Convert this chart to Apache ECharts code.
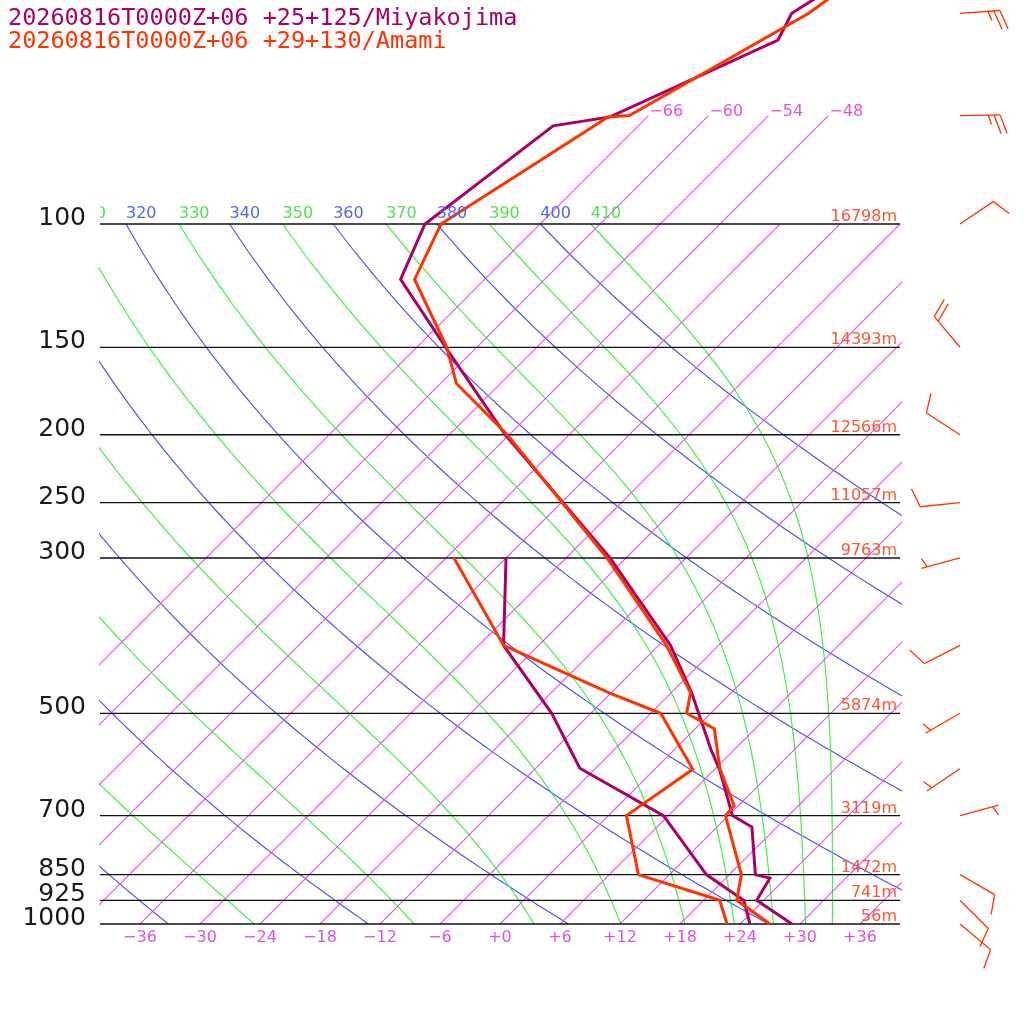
<!DOCTYPE html>
<html><head><meta charset="utf-8">
<script src="https://cdn.jsdelivr.net/npm/echarts@6/dist/echarts.min.js"></script>
<style>html,body{margin:0;padding:0;background:#fff}#c{width:1024px;height:1024px}</style>
</head><body><div id="c"></div>
<script>
// ---------------- data ----------------
const legendMiyako = '20260816T0000Z+06 +25+125/Miyakojima';
const legendAmami = '20260816T0000Z+06 +29+130/Amami';

const pressureLevels = [1000, 925, 850, 700, 500, 300, 250, 200, 150, 100];
const levelHeights = ['56m', '741m', '1472m', '3119m', '5874m', '9763m', '11057m', '12566m', '14393m', '16798m'];
const tempTicks = [-36, -30, -24, -18, -12, -6, 0, 6, 12, 18, 24, 30, 36];
const isothermTemps = [-66, -60, -54, -48, -42, -36, -30, -24, -18, -12, -6, 0, 6, 12, 18, 24, 30, 36];
const isothermLabelTemps = [-66, -60, -54, -48];
const dryAdiabatThetas = [240, 260, 280, 300, 320, 340, 360, 380, 400];
const moistAdiabatThetaEs = [250, 270, 290, 310, 330, 350, 370, 390, 410];

const miyakoTempP = [1000, 925, 860, 850, 727, 700, 603, 564, 468, 400, 300, 200, 153, 120, 100, 72.4, 70.3, 54.6, 50, 45];
const miyakoTemp  = [29.2, 23.3, 22.4, 20.6, 15.5, 12.4, 6.6, 3.7, -3.9, -10.8, -25.6, -48.4, -62.1, -74.4, -77.5, -74.5, -69.7, -60.6, -61.9, -60.0];
const miyakoDewP  = [1000, 925, 850, 700, 599, 500, 400, 300];
const miyakoDew   = [25.0, 22.0, 15.7, 5.5, -7.6, -15.9, -27.5, -36.0];

const amamiTempP = [1000, 925, 850, 700, 678, 599, 526, 500, 467, 400, 300, 200, 169, 150, 120, 100, 70.3, 70, 50, 45];
const amamiTemp  = [27.0, 21.3, 19.2, 11.7, 11.6, 6.4, 1.9, -2.4, -4.1, -11.2, -25.9, -48.2, -58.4, -63.0, -73.0, -75.9, -69.9, -67.9, -60.2, -59.0];
const amamiDewP  = [1000, 925, 850, 700, 601, 528, 500, 468, 400, 300];
const amamiDew   = [22.7, 19.6, 8.9, 1.8, 3.8, -2.4, -5.0, -12.1, -27.5, -41.2];

const windP   = [1000, 925, 850, 700, 600, 500, 400, 300, 250, 200, 150, 100, 70, 50];
const windDir = [130, 135, 120, 75, 236, 240, 243, 255, 264, 303, 320, 56, 89, 86];
const windSpd = [10, 10, 10, 5, 5, 5, 10, 5, 10, 10, 20, 10, 25, 25];

// ---------------- styles ----------------
const C_MIYAKO = 'rgb(170,0,102)';
const C_AMAMI = 'rgb(255,51,0)';
const C_ISO = 'rgb(228,80,240)';
const C_ISO_LABEL = 'rgb(221,85,221)';
const C_DRY = 'rgb(70,80,255)';
const C_DRY_LABEL = 'rgb(85,100,238)';
const C_MOIST = 'rgb(60,240,60)';
const C_MOIST_LABEL = 'rgb(85,221,85)';
const C_HEIGHT = 'rgb(255,85,51)';
const SANS = '"DejaVu Sans"';
const MONO = '"DejaVu Sans Mono"';

// ---------------- thermodynamics (background diagram) ----------------
const KAPPA = 0.2857;
const SKEW = 70; // degrees C of skew per decade of pressure (45 degree isotherms)
function skewX(T, p) { return T + SKEW * Math.log10(1000 / p); }
function satVap(Tc) { return 6.112 * Math.exp(17.67 * Tc / (Tc + 243.5)); }
function thetaESat(Tc, p) {
  const T = Tc + 273.15, es = satVap(Tc), r = 622 * es / (p - es);
  return T * Math.pow(1000 / p, 0.2854 * (1 - 0.00028 * r)) * Math.exp((3.376 / T - 0.00254) * r * (1 + 0.00081 * r));
}
function moistT(thetaE, p) {
  let lo = -140, hi = 45;
  while (satVap(hi) > 0.08 * p) hi -= 2;
  for (let i = 0; i < 60; i++) { const m = (lo + hi) / 2; if (thetaESat(m, p) < thetaE) lo = m; else hi = m; }
  return (lo + hi) / 2;
}
const samplePs = [];
for (let p = 1000; p >= 100; p -= 10) samplePs.push(p);

function profile(ps, ts) { return ps.map((p, i) => [skewX(ts[i], p), p]); }

const series = [];
const bg = { type: 'line', symbol: 'none', silent: true, animation: false, z: 1, clip: true };

dryAdiabatThetas.forEach(th => {
  series.push(Object.assign({}, bg, {
    data: samplePs.map(p => [skewX(th * Math.pow(p / 1000, KAPPA) - 273.15, p), p]),
    lineStyle: { color: C_DRY, width: 1.15 }
  }));
});
moistAdiabatThetaEs.forEach(te => {
  series.push(Object.assign({}, bg, {
    data: samplePs.map(p => [skewX(moistT(te, p), p), p]),
    lineStyle: { color: C_MOIST, width: 1.15 }
  }));
});
// isotherms
isothermTemps.forEach(T => {
  const pTop = isothermLabelTemps.includes(T) ? 70 : 100;
  const ps = samplePs.filter(p => p >= pTop);
  if (pTop < 100) ps.push(pTop);
  series.push(Object.assign({}, bg, {
    data: ps.map(p => [skewX(T, p), p]),
    lineStyle: { color: C_ISO, width: 1.1 }
  }));
});

// isobars
series.push({
  type: 'custom', z: 2, silent: true, animation: false, clip: false,
  data: pressureLevels.map(p => [0, p]),
  renderItem(params, api) {
    const p = api.value(1);
    const a = api.coord([-40, p]), b = api.coord([40, p]);
    return { type: 'line', shape: { x1: a[0], y1: a[1], x2: b[0], y2: b[1] }, style: { stroke: 'rgb(17,17,17)', lineWidth: 1.3 } };
  }
});
// pressure labels (left)
series.push({
  type: 'custom', z: 4, silent: true, animation: false, clip: false,
  data: pressureLevels.map(p => [-40, p]),
  renderItem(params, api) {
    const c = api.coord([api.value(0), api.value(1)]);
    return { type: 'text', x: c[0] - 14, y: c[1] - 5.5, style: { text: String(pressureLevels[params.dataIndex]), fill: 'rgb(26,26,26)', font: '25px ' + SANS, align: 'right', verticalAlign: 'middle' } };
  }
});
// height labels (right)
series.push({
  type: 'custom', z: 4, silent: true, animation: false, clip: false,
  data: pressureLevels.map(p => [40, p]),
  renderItem(params, api) {
    const c = api.coord([api.value(0), api.value(1)]);
    return { type: 'text', x: c[0] - 3, y: c[1] - 7, style: { text: levelHeights[params.dataIndex], fill: C_HEIGHT, font: '16px ' + SANS, align: 'right', verticalAlign: 'middle' } };
  }
});
// isotherm labels
series.push({
  type: 'custom', z: 4, silent: true, animation: false, clip: false,
  data: isothermLabelTemps.map(T => [skewX(T, 70), 70]),
  renderItem(params, api) {
    const c = api.coord([api.value(0), api.value(1)]);
    const T = isothermLabelTemps[params.dataIndex];
    return { type: 'text', x: c[0] + 1, y: c[1] - 4, style: { text: '\u2212' + Math.abs(T), fill: C_ISO_LABEL, font: '16px ' + SANS, align: 'left', verticalAlign: 'middle' } };
  }
});
// adiabat labels at 100 hPa
const adiabatLabels = [];
dryAdiabatThetas.forEach(th => adiabatLabels.push({ X: skewX(th * Math.pow(0.1, KAPPA) - 273.15, 100), text: String(th), color: C_DRY_LABEL }));
moistAdiabatThetaEs.forEach(te => adiabatLabels.push({ X: skewX(moistT(te, 100), 100), text: String(te), color: C_MOIST_LABEL }));
series.push({
  type: 'custom', z: 4, silent: true, animation: false, clip: true,
  data: adiabatLabels.map(d => [d.X, 100]),
  renderItem(params, api) {
    const c = api.coord([api.value(0), api.value(1)]);
    const d = adiabatLabels[params.dataIndex];
    return { type: 'text', x: c[0], y: c[1] - 10, style: { text: d.text, fill: d.color, font: '16px ' + SANS, align: 'left', verticalAlign: 'middle' } };
  }
});

// profiles
function prof(data, color) {
  return { type: 'line', symbol: 'none', silent: true, animation: false, z: 3, clip: true, data, lineStyle: { color, width: 3, join: 'miter' } };
}
series.push(prof(profile(miyakoDewP, miyakoDew), C_MIYAKO));
series.push(prof(profile(amamiDewP, amamiDew), C_AMAMI));
series.push(prof(profile(miyakoTempP, miyakoTemp), C_MIYAKO));
series.push(prof(profile(amamiTempP, amamiTemp), C_AMAMI));

// wind barbs (Amami)
series.push({
  type: 'custom', z: 4, silent: true, animation: false, clip: false,
  encode: { x: 1, y: 0 },
  data: windP.map((p, i) => [p, windDir[i], windSpd[i]]),
  renderItem(params, api) {
    const p = api.value(0), dir = api.value(1) * Math.PI / 180, spd = api.value(2);
    const base = api.coord([40, p]);
    const x0 = base[0] + 60, y0 = base[1], L = 40;
    const ex = x0 + L * Math.sin(dir), ey = y0 - L * Math.cos(dir);
    const ang = Math.atan2(ey - y0, ex - x0), fa = ang + 70 * Math.PI / 180;
    const st = { stroke: C_AMAMI, lineWidth: 1.3 };
    const ch = [{ type: 'line', shape: { x1: x0, y1: y0, x2: ex, y2: ey }, style: st }];
    let rem = Math.round(spd / 5) * 5, pos = 0;
    while (rem >= 10) {
      const sx = ex - pos * 6 * Math.cos(ang), sy = ey - pos * 6 * Math.sin(ang);
      ch.push({ type: 'line', shape: { x1: sx, y1: sy, x2: sx + 20 * Math.cos(fa), y2: sy + 20 * Math.sin(fa) }, style: st });
      rem -= 10; pos++;
    }
    if (rem >= 5) {
      if (pos === 0) pos = 1;
      const sx = ex - pos * 6 * Math.cos(ang), sy = ey - pos * 6 * Math.sin(ang);
      ch.push({ type: 'line', shape: { x1: sx, y1: sy, x2: sx + 10 * Math.cos(fa), y2: sy + 10 * Math.sin(fa) }, style: st });
    }
    return { type: 'group', children: ch };
  }
});

const chart = echarts.init(document.getElementById('c'), null, { renderer: 'canvas' });
chart.setOption({
  backgroundColor: '#fff',
  animation: false,
  title: [
    { text: legendMiyako, left: 8, top: 7, padding: 0, textStyle: { fontFamily: MONO, fontSize: 23.5, fontWeight: 'normal', color: C_MIYAKO } },
    { text: legendAmami, left: 8, top: 30, padding: 0, textStyle: { fontFamily: MONO, fontSize: 23.5, fontWeight: 'normal', color: C_AMAMI } }
  ],
  grid: { left: 100, right: 124, top: 0, bottom: 100, outerBoundsMode: 'none' },
  xAxis: {
    type: 'value', min: -40, max: 40,
    axisLine: { show: false }, axisTick: { show: false }, splitLine: { show: false },
    axisLabel: {
      customValues: tempTicks, margin: 6, color: C_ISO_LABEL, fontFamily: SANS, fontSize: 16,
      formatter: v => (v < 0 ? '\u2212' + Math.abs(v) : '+' + v)
    }
  },
  yAxis: {
    type: 'log', logBase: 10, min: 47.86, max: 1000, inverse: true,
    axisLine: { show: false }, axisTick: { show: false }, splitLine: { show: false },
    axisLabel: { show: false }
  },
  series
});
</script>
</body></html>
